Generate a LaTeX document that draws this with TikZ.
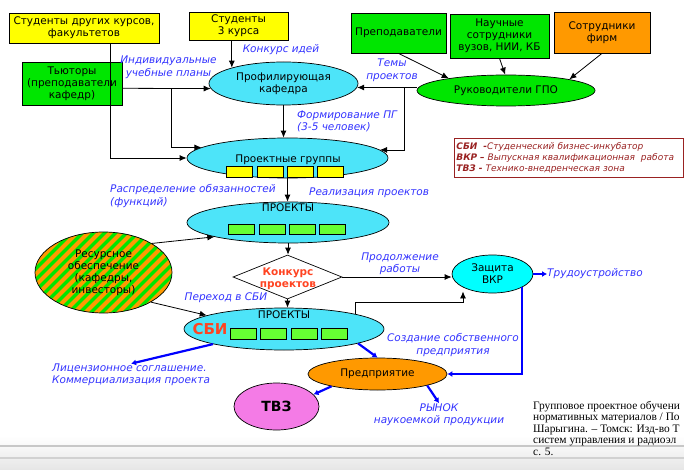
\documentclass[tikz,border=0pt]{standalone}
\usepackage{fontspec}
\setmainfont{DejaVu Sans}
\newfontfamily\citfont{Liberation Serif}
\usetikzlibrary{arrows.meta,shapes.geometric,shadows,calc}
\definecolor{cyanE}{HTML}{4DE4F9}
\definecolor{cyanZ}{HTML}{00FFFF}
\definecolor{greenB}{HTML}{00E600}
\definecolor{limeR}{HTML}{66FF33}
\definecolor{yellowB}{HTML}{FFFF00}
\definecolor{orangeB}{HTML}{FF9900}
\definecolor{pinkB}{HTML}{F47BE6}
\definecolor{lblue}{HTML}{3333FF}
\definecolor{ablue}{HTML}{0000FF}
\definecolor{dred}{HTML}{992222}
\definecolor{redT}{HTML}{FF4422}
\begin{document}
\begin{tikzpicture}[x=1pt,y=-1pt,
  every node/.style={font=\fontsize{10.5}{12}\selectfont, inner sep=0pt},
  bx/.style={draw, line width=0.7pt, align=center,
    drop shadow={shadow xshift=1.3pt,shadow yshift=-1.3pt,fill=black!60,opacity=1}},
  ell/.style={ellipse, draw, line width=0.7pt, align=center},
  arr/.style={-{Latex[length=7pt,width=6pt]}, line width=0.8pt},
  barr/.style={draw=ablue, line width=2.2pt, -{Latex[length=5pt,width=6pt]}},
  lab/.style={text=lblue, font=\fontsize{10.5}{12.5}\selectfont\itshape},
  yrect/.style={draw, line width=0.6pt, fill=yellowB},
  grect/.style={draw, line width=0.6pt, fill=limeR}]
\useasboundingbox (0,0) rectangle (684,470);
% footer bands
\fill[top color=white,bottom color=black!10] (0,436) rectangle (684,470);
\draw[black!22, line width=1.6pt] (0,446) -- (684,446);
\draw[black!18, line width=1.6pt] (0,458) -- (684,458);

% boxes
\node[bx, fill=yellowB, minimum width=150pt, minimum height=30pt] (Sdk) at (84,28) {Студенты других курсов,\\факультетов};
\node[bx, fill=yellowB, minimum width=99pt, minimum height=28pt] (S3) at (238.5,26) {Студенты\\3 курса};
\node[bx, fill=greenB, minimum width=100pt, minimum height=43pt] (Tut) at (72,83.5) {Тьюторы\\(преподаватели\\кафедр)};
\node[bx, fill=greenB, minimum width=95pt, minimum height=40pt] (Prep) at (398.5,33) {Преподаватели};
\node[bx, fill=greenB, minimum width=99pt, minimum height=44pt] (Nauch) at (499.5,36) {Научные\\сотрудники\\вузов, НИИ, КБ};
\node[bx, fill=orangeB, minimum width=96pt, minimum height=41pt] (Sotr) at (602,32.5) {Сотрудники\\фирм};

% ellipses
\node[ell, fill=cyanE, minimum width=149pt, minimum height=43pt] (Prof) at (283.5,83.5) {Профилирующая\\кафедра};
\node[ell, fill=greenB, minimum width=178pt, minimum height=31pt] (Ruk) at (506,90.5) {Руководители ГПО};
\node[ell, fill=cyanE, minimum width=201pt, minimum height=40pt] (PG) at (287.5,158) {};
\node (PGt) at (288,160) {Проектные группы};
\foreach \xx in {226,257,287,317} \draw[yrect] (\xx,166) rectangle ++(26,11);
\node[ell, fill=cyanE, minimum width=202pt, minimum height=41pt] (PR1) at (288,222.5) {};
\node (PR1t) at (288,208) {ПРОЕКТЫ};
\foreach \xx in {228,259,289,319} \draw[grect] (\xx,224) rectangle ++(26,10);

\node[ell, minimum width=137pt, minimum height=81pt,
  path picture={
    \fill[greenB] (path picture bounding box.south west) rectangle (path picture bounding box.north east);
    \foreach \k in {-14,...,14} {
      \draw[orangeB, line width=4pt] ($(path picture bounding box.center)+(\k*11-60,60)$) -- ++(120,-120);
    }
  }] (Res) at (103.5,272.5) {Ресурсное\\обеспечение\\(кафедры,\\инвесторы)};

\node[diamond, draw, line width=0.7pt, fill=white, minimum width=109pt, minimum height=44pt] (Konk) at (287.5,277) {};
\node[text=redT, font=\fontsize{10.5}{12}\selectfont\bfseries, align=center] (Konkt) at (288,279) {Конкурс\\проектов};

\node[ell, fill=cyanZ, minimum width=81pt, minimum height=38pt] (Zash) at (492.5,274) {Защита\\ВКР};

\node[ell, fill=cyanE, minimum width=200pt, minimum height=42pt] (SBI) at (284,329) {};
\node (SBIt) at (284,315) {ПРОЕКТЫ};
\node[text=redT, font=\fontsize{15}{16}\selectfont\bfseries] (SBIl) at (210,329) {СБИ};
\foreach \xx in {230,260,291,321} \draw[grect] (\xx,328) rectangle ++(26,11);

\node[ell, fill=orangeB, minimum width=139pt, minimum height=32pt] (Pred) at (377.5,374) {Предприятие};
\node[ell, fill=pinkB, minimum width=85pt, minimum height=47pt, font=\fontsize{14}{16}\selectfont\bfseries] (TVZ) at (276.5,406.5) {ТВЗ};

% labels
\node[lab] (Lidei) at (281,50) {Конкурс идей};
\node[lab, align=center] (Lind) at (168.5,67.5) {Индивидуальные\\учебные планы};
\node[lab, align=center] (Ltem) at (392,70.5) {Темы\\проектов};
\node[lab, align=left, anchor=west] (Lform) at (297,121.5) {Формирование ПГ\\(3-5 человек)};
\node[lab, align=left, anchor=west] (Lrasp) at (110,196) {Распределение обязанностей\\(функций)};
\node[lab, anchor=west] (Lreal) at (309,193) {Реализация проектов};
\node[lab] (Lper) at (226,298) {Переход в СБИ};
\node[lab, align=center] (Lprod) at (400,264) {Продолжение\\работы};
\node[lab, anchor=west] (Ltrud) at (547,274) {Трудоустройство};
\node[lab, align=center] (Lsozd) at (453,345) {Создание собственного\\предприятия};
\node[lab, align=left, anchor=west] (Llic) at (52,375) {Лицензионное соглашение.\\Коммерциализация проекта};
\node[lab, align=center] (Lryn) at (439,414.5) {РЫНОК\\наукоемкой продукции};

% legend
\node[draw=dred, line width=0.8pt, anchor=north west, text width=225pt, inner sep=2pt,
  minimum height=39pt, align=left, text=dred,
  font=\fontsize{9}{11}\selectfont\itshape] (Leg) at (454,138)
  {{\bfseries СБИ\ \ -}Студенческий бизнес-инкубатор\\
   {\bfseries ВКР –} Выпускная квалификационная\ \ работа\\
   {\bfseries ТВЗ -} Технико-внедренческая зона};

% citation
\node[anchor=north west, align=left, font=\citfont\fontsize{11.4}{11.5}\selectfont] (Cit) at (533,401)
  {Групповое проектное обучени\\нормативных материалов / По\\Шарыгина. – Томск: Изд-во Т\\систем управления и радиоэл\\с. 5.};

% connectors
\draw[arr] (S3.south -| Prof.163) -- (Prof.163);
\draw[arr] ([xshift=26pt]Sdk.south) |- (PG.west);
\coordinate (j2) at (171,88.3);
\draw[arr] (Tut.east |- j2) -- (Prof.184);
\draw[arr] (j2) |- (PG.173);
\draw[arr] (Prof.south) -- (Prof.south |- PG.north);
\draw[arr] (Prep.south) -- (Ruk.168);
\draw[arr] (Nauch.south) -- (Ruk.93);
\draw[arr] (Sotr.south) -- (Ruk.10);
\coordinate (j1) at (404,87.5);
\draw[arr] ([yshift=3pt]Ruk.west) -- ([yshift=3pt]Ruk.west -| Prof.-3);
\draw[arr] (j1) |- (PG.5);
\draw[arr] (PG.south) -- (PG.south |- PR1.north);
\draw[arr] (PR1.south) -- (PR1.south |- Konk.north);
\draw[arr] (Konk.south) -- (Konk.south |- SBI.north);
\draw[arr] (Konk.east) -- (Konk.east -| Zash.west);
\coordinate (jz) at (463,302);
\draw[arr] (SBI.12) |- (jz) -- (jz |- Zash.225);
\draw[arr] (Res.31) -- (PR1.191);
\draw[arr] (Res.-32) -- (SBI.170);
\draw[barr] (Zash.east) -- (Ltrud.west);
\draw[barr] (Zash.-24) |- (Pred.east);
\draw[barr] (SBI.192) -- (Llic.north);
\draw[barr] (SBI.-11) -- (Pred.north);
\draw[barr] (Pred.195) -- (TVZ.18);
\draw[barr] (Pred.-13) -- (Lryn.north);
\end{tikzpicture}
\end{document}
